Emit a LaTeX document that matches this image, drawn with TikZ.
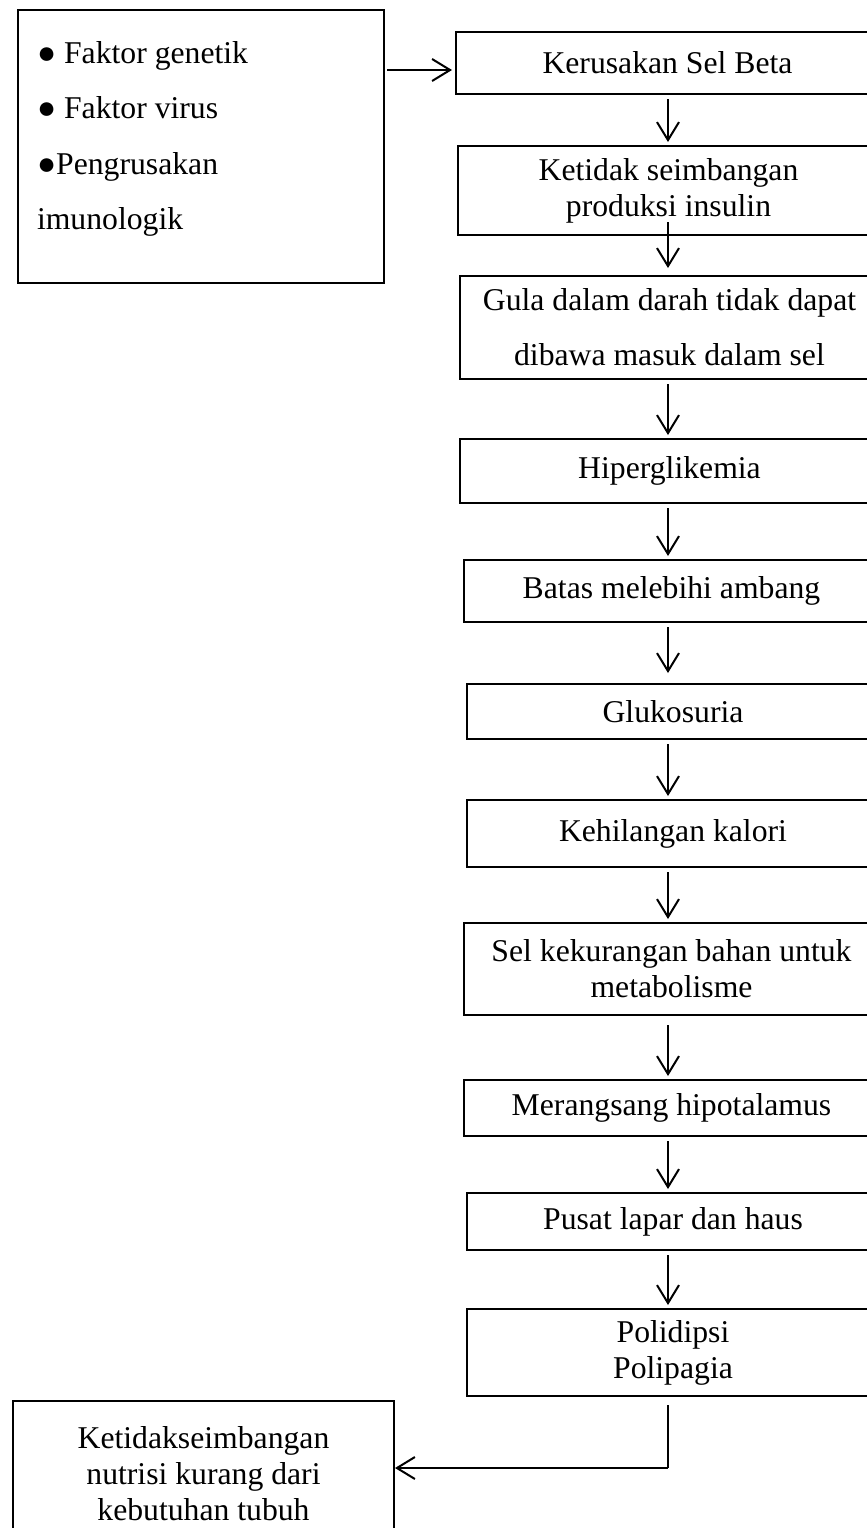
\documentclass[tikz,border=0pt]{standalone}
\usepackage{fontspec}
\setmainfont{Liberation Serif}
\usetikzlibrary{arrows.meta}

\begin{document}
\begin{tikzpicture}[x=0.5pt, y=-0.5pt, line width=1pt,
  stepbox/.style={draw, line width=1pt, inner sep=0pt, anchor=north west, align=center, font=\fontsize{15.85}{18}\selectfont},
  listtext/.style={inner sep=0pt, anchor=north west, align=left, font=\fontsize{15.85}{27.8}\selectfont},
  flow/.style={-{Straight Barb[length=9pt, width=11pt]}, line width=1pt, shorten <=2pt, shorten >=1.5pt}]
  \useasboundingbox (0,0) rectangle (867,1528);
  \clip (0,0) rectangle (867,1528);
  % causes
  \node[stepbox, minimum width=183pt, minimum height=136.5pt] (faktor) at (17,9) {};
  \node[listtext] (faktorlist) at (36,40) {● Faktor genetik\\● Faktor virus\\●Pengrusakan\\imunologik};
  % main chain, right edges run past the page
  \node[stepbox, minimum width=211.5pt, minimum height=31pt] (kerusakan) at (455,31) {Kerusakan Sel Beta};
  \node[stepbox, minimum width=210.5pt, minimum height=44.5pt] (ketidak) at (457,145) {Ketidak seimbangan\\produksi insulin};
  \node[stepbox, minimum width=209.5pt, minimum height=51.5pt, font=\fontsize{15.85}{27.5}\selectfont] (gula) at (459,275) {Gula dalam darah tidak dapat\\dibawa masuk dalam sel};
  \node[stepbox, minimum width=209.5pt, minimum height=32pt] (hiper) at (459,438) {Hiperglikemia};
  \node[stepbox, minimum width=207.5pt, minimum height=31pt] (batas) at (463,559) {Batas melebihi ambang};
  \node[stepbox, minimum width=206pt, minimum height=27.5pt] (gluko) at (466,683) {Glukosuria};
  \node[stepbox, minimum width=206pt, minimum height=33.5pt] (kalori) at (466,799) {Kehilangan kalori};
  \node[stepbox, minimum width=207.5pt, minimum height=46pt] (sel) at (463,922) {Sel kekurangan bahan untuk\\metabolisme};
  \node[stepbox, minimum width=207.5pt, minimum height=28pt] (hipotalamus) at (463,1079) {Merangsang hipotalamus};
  \node[stepbox, minimum width=206pt, minimum height=28.5pt] (pusat) at (466,1192) {Pusat lapar dan haus};
  \node[stepbox, minimum width=206pt, minimum height=43.5pt] (poli) at (466,1308) {Polidipsi\\Polipagia};
  \node[stepbox, minimum width=190.5pt, minimum height=72.5pt] (nutrisi) at (12,1400) {Ketidakseimbangan\\nutrisi kurang dari\\kebutuhan tubuh};
  % connectors
  \coordinate (spine) at (668,0);
  \coordinate (feed) at (420,70);
  \coordinate (bend) at (668,1468);
  \draw[flow, shorten <=1pt] (faktor.east |- feed) -- (kerusakan.west |- feed);
  \draw[flow] (kerusakan.south -| spine) -- (ketidak.north -| spine);
  \draw[flow, shorten <=-7pt, shorten >=3.5pt] (ketidak.south -| spine) -- (gula.north -| spine);
  \draw[flow] (gula.south -| spine) -- (hiper.north -| spine);
  \draw[flow] (hiper.south -| spine) -- (batas.north -| spine);
  \draw[flow, shorten >=5pt] (batas.south -| spine) -- (gluko.north -| spine);
  \draw[flow] (gluko.south -| spine) -- (kalori.north -| spine);
  \draw[flow] (kalori.south -| spine) -- (sel.north -| spine);
  \draw[flow, shorten <=4.5pt] (sel.south -| spine) -- (hipotalamus.north -| spine);
  \draw[flow] (hipotalamus.south -| spine) -- (pusat.north -| spine);
  \draw[flow] (pusat.south -| spine) -- (poli.north -| spine);
  \draw[line width=0.6pt, shorten <=4pt] (poli.south -| spine) -- (bend);
  \draw[flow, shorten <=0pt, shorten >=0pt] (bend) -- (nutrisi.east |- bend);
\end{tikzpicture}
\end{document}
